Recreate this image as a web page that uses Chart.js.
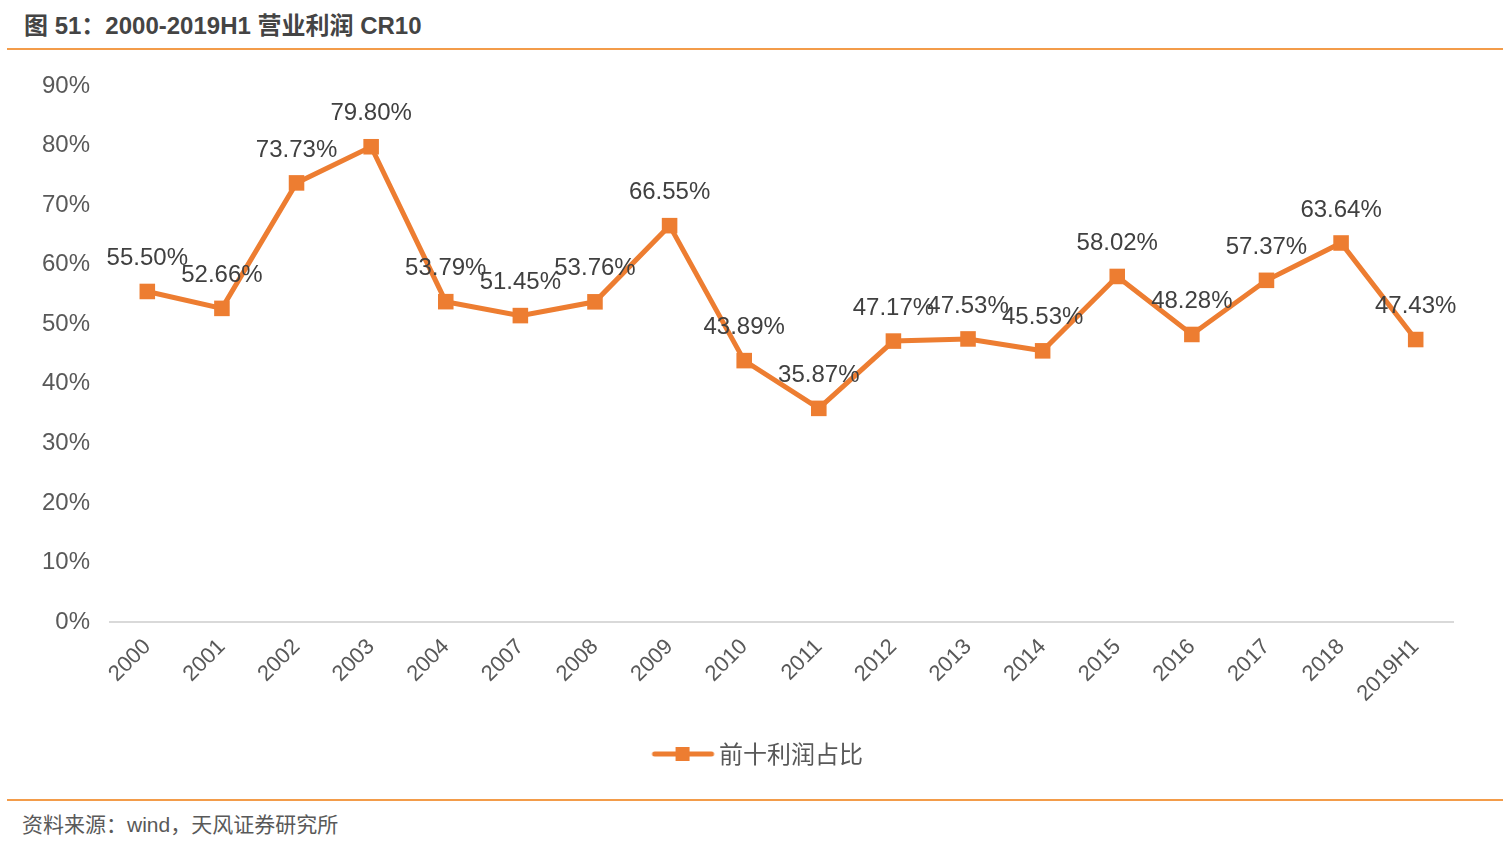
<!DOCTYPE html>
<html><head><meta charset="utf-8">
<script src="https://cdn.jsdelivr.net/npm/chart.js@4.4.1/dist/chart.umd.min.js"></script>
<style>
html,body{margin:0;padding:0;background:#fff;width:1510px;height:849px;overflow:hidden;font-family:"Liberation Sans","Noto Sans CJK SC",sans-serif;}
#title{position:absolute;left:24px;top:6px;font-size:24px;font-weight:bold;color:#444;font-family:"Liberation Sans","Noto Sans CJK SC",sans-serif;white-space:nowrap;}
#topline{position:absolute;left:7px;top:48px;width:1496px;height:2px;background:#F39C4A;}
#botline{position:absolute;left:7px;top:799px;width:1496px;height:2px;background:#F39C4A;}
#source{position:absolute;left:22px;top:808px;font-size:21px;color:#595959;white-space:nowrap;font-family:"Liberation Sans","Noto Sans CJK SC",sans-serif;}
#wrap{position:absolute;left:0;top:50px;width:1510px;height:750px;}
</style></head>
<body>
<div id="title">图 51：2000-2019H1 营业利润 CR10</div>
<div id="topline"></div>
<div id="wrap"><canvas id="c"></canvas></div>
<div id="botline"></div>
<div id="source">资料来源：wind，天风证券研究所</div>
<script>
const categories = ["2000","2001","2002","2003","2004","2007","2008","2009","2010","2011","2012","2013","2014","2015","2016","2017","2018","2019H1"];
const seriesName = "前十利润占比";
const seriesValues = [55.50,52.66,73.73,79.80,53.79,51.45,53.76,66.55,43.89,35.87,47.17,47.53,45.53,58.02,48.28,57.37,63.64,47.43];
const yTicks = [0,10,20,30,40,50,60,70,80,90];

const ORANGE = "#ED7D31";

// legend symbol: line with square (canvas drawn centred in the legend box)
const sym = document.createElement('canvas');
sym.width = 134; sym.height = 16;
(function(){
  const g = sym.getContext('2d');
  g.strokeStyle = ORANGE; g.lineWidth = 5; g.lineCap = 'round';
  g.beginPath(); g.moveTo(73,8); g.lineTo(130,8); g.stroke();
  g.fillStyle = ORANGE; g.fillRect(94,1,14,14);
})();

const labelPlugin = {
  id: 'valueLabels',
  afterDatasetsDraw(chart){
    const ctx = chart.ctx;
    const meta = chart.getDatasetMeta(0);
    ctx.save();
    ctx.font = '24px "Liberation Sans", Arial, sans-serif';
    ctx.fillStyle = '#404040';
    ctx.textAlign = 'center';
    ctx.textBaseline = 'middle';
    meta.data.forEach((pt, i) => {
      ctx.fillText(seriesValues[i].toFixed(2) + '%', pt.x, pt.y - 33);
    });
    ctx.restore();
  }
};

new Chart(document.getElementById('c'), {
  type: 'line',
  data: {
    labels: categories,
    datasets: [{
      label: seriesName,
      data: seriesValues,
      borderColor: ORANGE,
      backgroundColor: ORANGE,
      borderWidth: 5,
      pointStyle: 'rect',
      pointRadius: 11,
      pointHoverRadius: 11,
      pointBackgroundColor: ORANGE,
      pointBorderWidth: 0,
      tension: 0,
      fill: false
    }]
  },
  options: {
    responsive: true,
    maintainAspectRatio: false,
    animation: false,
    events: [],
    layout: { padding: { top: 36, right: 57, bottom: 24, left: 0 } },
    plugins: {
      title: { display: false },
      tooltip: { enabled: false },
      legend: {
        display: true,
        position: 'bottom',
        labels: {
          usePointStyle: true,
          pointStyleWidth: 117,
          generateLabels(chart){
            return [{ text: seriesName, pointStyle: sym, fillStyle: ORANGE, strokeStyle: ORANGE, lineWidth: 0, datasetIndex: 0, hidden: false, fontColor: '#595959' }];
          },
          color: '#595959',
          font: { size: 24, family: '"Noto Sans CJK SC", "Liberation Sans", sans-serif' },
          padding: 10
        }
      }
    },
    scales: {
      x: {
        offset: true,
        grid: { display: false, drawTicks: false },
        border: { display: true, color: '#D9D9D9', width: 2 },
        ticks: {
          color: '#595959',
          font: { size: 22, family: '"Liberation Sans", Arial, sans-serif' },
          maxRotation: 45, minRotation: 45,
          autoSkip: false,
          padding: 12
        },
        afterFit(scale){ scale.height = 110; }
      },
      y: {
        min: 0, max: 90,
        afterBuildTicks(scale){ scale.ticks = yTicks.map(v => ({ value: v })); },
        grid: { display: false, drawTicks: false },
        border: { display: false },
        ticks: {
          color: '#595959',
          font: { size: 24, family: '"Liberation Sans", Arial, sans-serif' },
          padding: 20,
          callback: v => v + '%'
        },
        afterFit(scale){ scale.width = 110; }
      }
    }
  },
  plugins: [labelPlugin]
});
</script>
</body></html>
